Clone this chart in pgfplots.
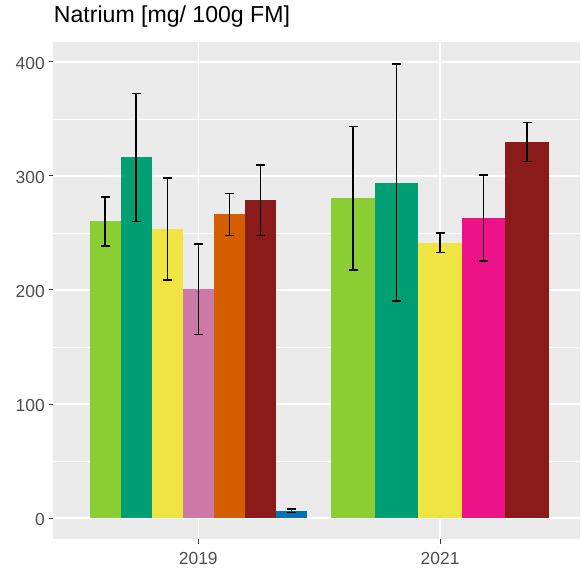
\documentclass[border=0pt]{standalone}
\usepackage{pgfplots}
\pgfplotsset{compat=1.18}
\usepackage{fontspec}
\setmainfont{Liberation Sans}

\definecolor{panelbg}{HTML}{EBEBEB}
\definecolor{tickgray}{HTML}{333333}
\definecolor{labelgray}{HTML}{4D4D4D}
\definecolor{cLime}{HTML}{8BCE33}
\definecolor{cGreen}{HTML}{009E73}
\definecolor{cYellow}{HTML}{F0E442}
\definecolor{cPink}{HTML}{CC79A7}
\definecolor{cOrange}{HTML}{D55E00}
\definecolor{cDarkRed}{HTML}{8B1A1A}
\definecolor{cBlue}{HTML}{0072B2}
\definecolor{cMagenta}{HTML}{EE1289}

\pgfplotsset{
  onebar/.style={
    ybar, bar shift=0pt, bar width=#1, draw=none,
    /pgfplots/error bars/y dir=both,
    /pgfplots/error bars/y explicit,
    /pgfplots/error bars/error bar style={black, line width=1.4bp},
    /pgfplots/error bars/error mark options={rotate=90, mark size=4.5bp, line width=1.4bp, black},
  },
}

\begin{document}
\begin{tikzpicture}
\begin{axis}[
  scale only axis,
  width=527.7bp, height=498.3bp,
  xmin=0.4, xmax=2.58,
  ymin=-18.6, ymax=417.7,
  axis background/.style={fill=panelbg},
  axis line style={draw=none},
  xtick={1,2}, xticklabels={2019,2021},
  ytick={0,100,200,300,400},
  minor ytick={50,150,250,350},
  xtick pos=bottom, ytick pos=left,
  grid=both,
  major grid style={white, line width=1.4bp},
  minor grid style={white, line width=0.7bp},
  tick align=outside,
  major tick length=4.5bp, minor tick length=0pt,
  tick style={tickgray, line width=1.0bp},
  ticklabel style={font=\fontsize{17.5}{20}\selectfont, text=labelgray},
  /pgf/number format/assume math mode=true,
  yticklabel style={xshift=-0.5bp, yshift=-1.5bp},
  xticklabel style={yshift=-5bp},
  title={Natrium [mg/ 100g FM]},
  title style={at={(0,1)}, anchor=base west, yshift=13.4bp,
               font=\fontsize{23.2}{27}\selectfont, inner xsep=0.5bp},
]
% 2019: seven products, each 0.9/7 wide
\addplot[onebar=0.12857, fill=cLime]    coordinates {(0.6143,260.1) +- (0,21.5)};
\addplot[onebar=0.12857, fill=cGreen]   coordinates {(0.7429,316.3) +- (0,56.2)};
\addplot[onebar=0.12857, fill=cYellow]  coordinates {(0.8714,253.3) +- (0,44.7)};
\addplot[onebar=0.12857, fill=cPink]    coordinates {(1.0000,200.6) +- (0,39.6)};
\addplot[onebar=0.12857, fill=cOrange]  coordinates {(1.1286,266.3) +- (0,18.3)};
\addplot[onebar=0.12857, fill=cDarkRed] coordinates {(1.2571,278.8) +- (0,30.8)};
\addplot[onebar=0.12857, fill=cBlue]    coordinates {(1.3857,6.4) +- (0,1.5)};
% 2021: five products, each 0.9/5 wide
\addplot[onebar=0.18, fill=cLime]    coordinates {(1.64,280.4) +- (0,62.9)};
\addplot[onebar=0.18, fill=cGreen]   coordinates {(1.82,294.2) +- (0,104.0)};
\addplot[onebar=0.18, fill=cYellow]  coordinates {(2.00,241.4) +- (0,8.4)};
\addplot[onebar=0.18, fill=cMagenta] coordinates {(2.18,263.0) +- (0,37.7)};
\addplot[onebar=0.18, fill=cDarkRed] coordinates {(2.36,329.5) +- (0,17.1)};
\end{axis}
% fixed outer frame around the panel
\path (current axis.south west) ++(-53.3bp,-34bp) coordinate (bbsw);
\path (current axis.north east) ++(0bp,41.7bp) coordinate (bbne);
\useasboundingbox (bbsw) rectangle (bbne);
\end{tikzpicture}
\end{document}
